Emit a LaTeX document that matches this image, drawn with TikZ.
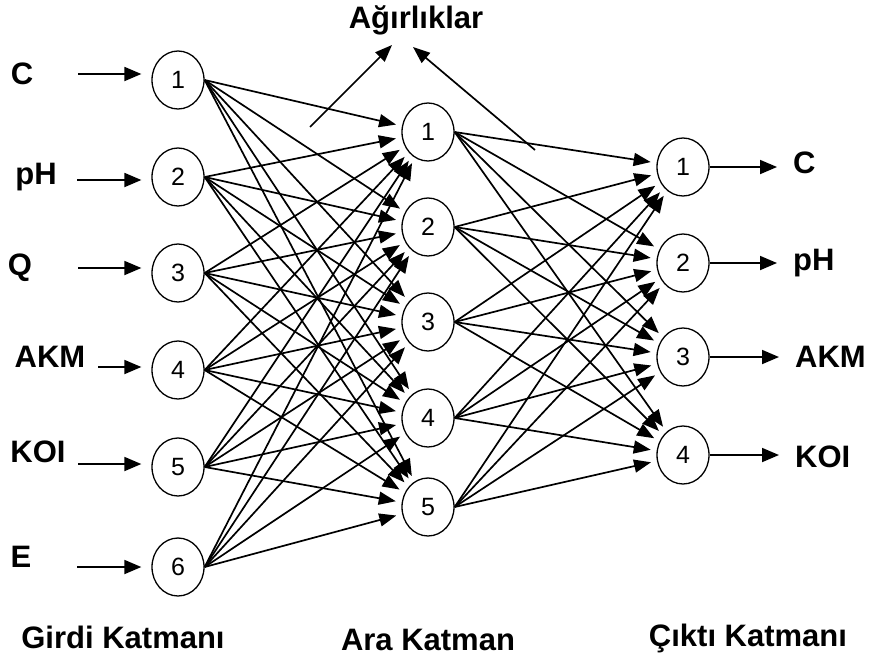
\documentclass[tikz,border=0pt]{standalone}
\usepackage{fontspec}
\setmainfont{Liberation Sans}
\usetikzlibrary{shapes.geometric,arrows.meta}
\begin{document}
\begin{tikzpicture}[x=1pt,y=-1pt,
  neuron/.style={ellipse,draw,line width=1.3pt,minimum width=52pt,minimum height=58pt,inner sep=0pt,font=\fontsize{25}{25}\selectfont},
  lbl/.style={font=\fontsize{31}{31}\selectfont\bfseries,inner sep=0pt},
  arr/.style={line width=1.8pt,-{Triangle[length=17pt,width=14pt]}},
  conn/.style={line width=1.7pt,-{Triangle[length=17pt,width=13pt]},shorten >=6pt}]
\useasboundingbox (0,0) rectangle (869,662);
% input layer
\foreach \i/\y in {1/80,2/177,3/273,4/370,5/467,6/567}
  \node[neuron] (i\i) at (178,\y) {\i};
% hidden layer
\foreach \i/\y in {1/132,2/227,3/322,4/418,5/507}
  \node[neuron] (h\i) at (428,\y) {\i};
% output layer
\foreach \i/\y in {1/167,2/263,3/357,4/455}
  \node[neuron] (o\i) at (683,\y) {\i};
% connections
\foreach \i in {1,...,6}
  \foreach \j in {1,...,5}
    \draw[conn] (i\i.east) -- (h\j);
\foreach \j in {1,...,5}
  \foreach \k in {1,...,4}
    \draw[conn] (h\j.east) -- (o\k);
% input labels and arrows
\node[lbl] (l1) at (22,74) {C};
\node[lbl] (l2) at (36,177) {pH};
\node[lbl] (l3) at (20,268) {Q};
\node[lbl] (l4) at (50,357) {AKM};
\node[lbl] (l5) at (38,452) {KOI};
\node[lbl] (l6) at (21,557) {E};
\coordinate (a1) at (78,74);
\coordinate (a2) at (77,180);
\coordinate (a3) at (78,268);
\coordinate (a4) at (98,367);
\coordinate (a5) at (78,464);
\coordinate (a6) at (77,567);
\foreach \i in {1,...,6}
  \draw[arr,shorten >=10pt] (a\i) -- (a\i -| i\i.west);
% output labels and arrows
\node[lbl,anchor=west] (m1) at (793,163) {C};
\node[lbl,anchor=west] (m2) at (793,263) {pH};
\node[lbl,anchor=west] (m3) at (795,357) {AKM};
\node[lbl,anchor=west] (m4) at (795,457) {KOI};
\foreach \k in {1,...,4}
  \draw[arr,shorten >=16pt] (o\k.east) -- (o\k.east -| m\k.west);
% weights
\node[lbl] (w) at (416,20) {Ağırlıklar};
\coordinate (wa) at (310,127);
\coordinate (wae) at (392,45);
\coordinate (wb) at (535,150);
\coordinate (wbe) at (413,47);
\draw[conn,shorten >=0pt] (wa) -- (wae);
\draw[conn,shorten >=0pt] (wb) -- (wbe);
% layer titles
\node[lbl] (t1) at (123,637) {Girdi Katmanı};
\node[lbl] (t2) at (428,640) {Ara Katman};
\node[lbl] (t3) at (748,638) {Çıktı Katmanı};
\end{tikzpicture}
\end{document}
